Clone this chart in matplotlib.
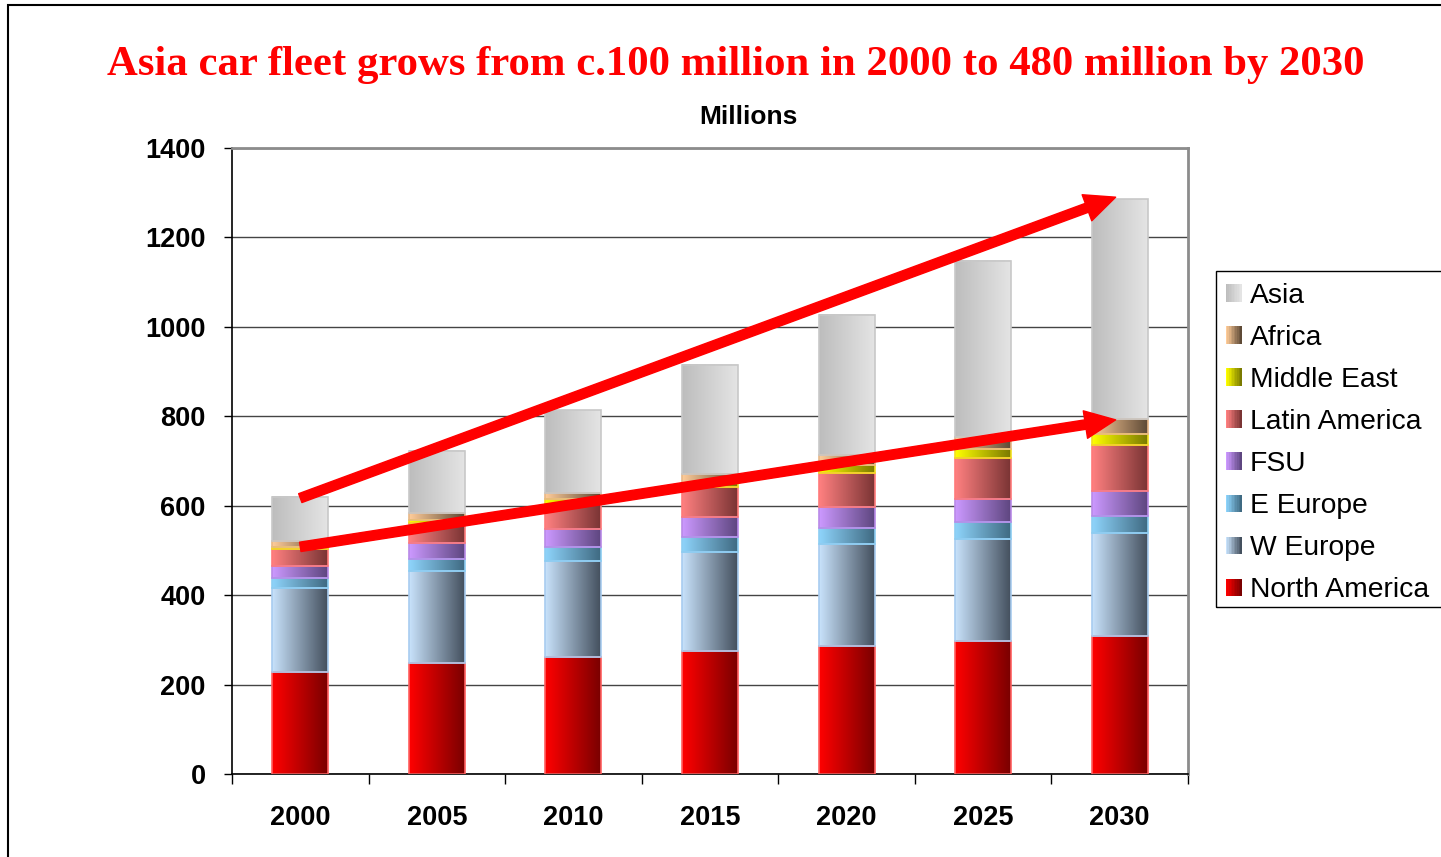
import numpy as np
import matplotlib
matplotlib.use("Agg")
import matplotlib.pyplot as plt
from matplotlib.patches import Rectangle, Patch
from matplotlib.legend_handler import HandlerBase
from matplotlib.colors import to_rgb

# ---------------- data ----------------
years = ["2000", "2005", "2010", "2015", "2020", "2025", "2030"]
north_america = [229, 249, 261, 274, 286, 298, 309]
w_europe      = [186, 205, 215, 223, 228, 227, 231]
e_europe      = [23, 26, 32, 34, 36, 39, 37]
fsu           = [28, 36, 40, 43, 48, 52, 56]
latin_america = [37, 45, 56, 67, 76, 90, 103]
middle_east   = [5, 7, 10, 9, 17, 20, 24]
africa        = [12, 15, 14, 21, 22, 27, 34]
asia          = [99, 139, 185, 244, 314, 394, 492]

series_names = ["North America", "W Europe", "E Europe", "FSU",
                "Latin America", "Middle East", "Africa", "Asia"]
series_values = [north_america, w_europe, e_europe, fsu,
                 latin_america, middle_east, africa, asia]

# arrow annotations (category index, value)
arrow_upper = [(0.0, 617), (5.97, 1290)]
arrow_lower = [(0.0, 508), (5.97, 792)]

title = "Asia car fleet grows from c.100 million in 2000 to 480 million by 2030"
y_ticks = [0, 200, 400, 600, 800, 1000, 1200, 1400]

# ---------------- styles ----------------
grad = {
    "North America": ("#ff0000", "#7a0000", "#ff6060"),
    "W Europe":      ("#c8e2fb", "#44505e", "#a8ccf0"),
    "E Europe":      ("#8ed4fb", "#3f6a82", "#8ccdf2"),
    "FSU":           ("#cc99ff", "#5e4680", "#b98ae8"),
    "Latin America": ("#ff8080", "#7a3434", "#ff7a7a"),
    "Middle East":   ("#ffff00", "#7a7a00", "#f2e020"),
    "Africa":        ("#ffcc99", "#5e4a36", "#e8b888"),
    "Asia":          ("#bdbdbd", "#e4e4e4", "#c8c8c8"),
}

def ramp(c0, c1, n=64):
    a = np.array(to_rgb(c0)); b = np.array(to_rgb(c1))
    t = np.linspace(0, 1, n)[:, None]
    return (a + (b - a) * t)[None, :, :]

plt.rcParams['font.family'] = ['Liberation Sans', 'DejaVu Sans']

fig = plt.figure(figsize=(14.41, 8.57), dpi=100)
ax = fig.add_axes([232/1441, 1-774/857, (1188-232)/1441, (774-148)/857])

x = np.arange(len(years))
width = 0.41
bottom = np.zeros(len(years))
for name, vals in zip(series_names, series_values):
    vals = np.array(vals, dtype=float)
    c0, c1, ec = grad[name]
    img = ramp(c0, c1)
    for xi, b, v in zip(x, bottom, vals):
        ax.imshow(img, extent=(xi - width/2, xi + width/2, b, b + v),
                  aspect='auto', interpolation='bilinear', zorder=2)
    ax.bar(x, vals, width, bottom=bottom, fill=False, edgecolor=ec,
           linewidth=1.2, zorder=3)
    bottom += vals

ax.set_xlim(-0.5, len(years) - 0.5)
ax.set_ylim(0, 1400)
ax.set_yticks(y_ticks)
ax.set_yticklabels([str(v) for v in y_ticks], fontsize=19.5, fontweight='bold')
ax.set_xticks(x)
ax.set_xticklabels(years, fontsize=19.5, fontweight='bold')
ax.set_xticks(np.arange(-0.5, len(years) + 0.5, 1), minor=True)
ax.tick_params(axis='x', which='major', length=0, pad=22)
ax.tick_params(axis='x', which='minor', length=7, width=1, direction='out')
ax.tick_params(axis='y', length=6, width=1, direction='out', pad=13)
ax.grid(axis='y', color='#444444', linewidth=1, zorder=0)
ax.set_axisbelow(True)
for s in ['top', 'right']:
    ax.spines[s].set_color('#8c8c8c'); ax.spines[s].set_linewidth(2)
for s in ['left', 'bottom']:
    ax.spines[s].set_color('black'); ax.spines[s].set_linewidth(1.2)

# arrows
for (p0, p1) in (arrow_upper, arrow_lower):
    ax.annotate('', xy=p1, xytext=p0,
                arrowprops=dict(arrowstyle='simple,head_length=1.1,head_width=1.0,tail_width=0.34',
                                color='#ff0000', mutation_scale=20,
                                shrinkA=0, shrinkB=0),
                zorder=5)

# titles
fig.text(736/1441, 1-65/857, title, ha='center', va='center', color='#ff0000',
         fontsize=30.8, fontweight='bold', family=['Liberation Serif', 'DejaVu Serif'])
fig.text(748/1441, 1-117/857, "Millions", ha='center', va='center',
         fontsize=19, fontweight='bold')

# legend with gradient swatches
class GradPatch(Patch):
    def __init__(self, c0, c1, **kw):
        super().__init__(**kw)
        self.c0, self.c1 = c0, c1

class GradHandler(HandlerBase):
    def create_artists(self, legend, orig_handle, xdescent, ydescent,
                       width, height, fontsize, trans):
        n = 10
        a = np.array(to_rgb(orig_handle.c0)); b = np.array(to_rgb(orig_handle.c1))
        arts = []
        for i in range(n):
            t = i / (n - 1)
            r = Rectangle((-xdescent + i * width / n, -ydescent), width / n + 0.01,
                          height, facecolor=tuple(a + (b - a) * t), edgecolor='none',
                          transform=trans)
            arts.append(r)
        return arts

handles = [GradPatch(grad[n][0], grad[n][1], label=n) for n in series_names[::-1]]
leg = fig.legend(handles=handles, labels=series_names[::-1],
                 loc='upper left', bbox_to_anchor=(1214/1441, 1-271/857),
                 handler_map={GradPatch: GradHandler()},
                 fontsize=20.3, frameon=False,
                 handlelength=0.57, handleheight=0.57,
                 handletextpad=0.28, labelspacing=0.57, borderpad=0.42,
                 borderaxespad=0)

# legend frame (extends past the right edge, as in the source)
fig.patches.append(Rectangle((1216/1441, 1-607/857), 0.2, (607-271)/857,
                             fill=False, edgecolor='black', linewidth=1,
                             transform=fig.transFigure, figure=fig))

# outer figure border
fig.patches.append(Rectangle((8/1441, -0.02), 1.05, 1.02 - 5/857, fill=False,
                             edgecolor='black', linewidth=1.5,
                             transform=fig.transFigure, figure=fig))

fig.savefig("out.png", dpi=100)
